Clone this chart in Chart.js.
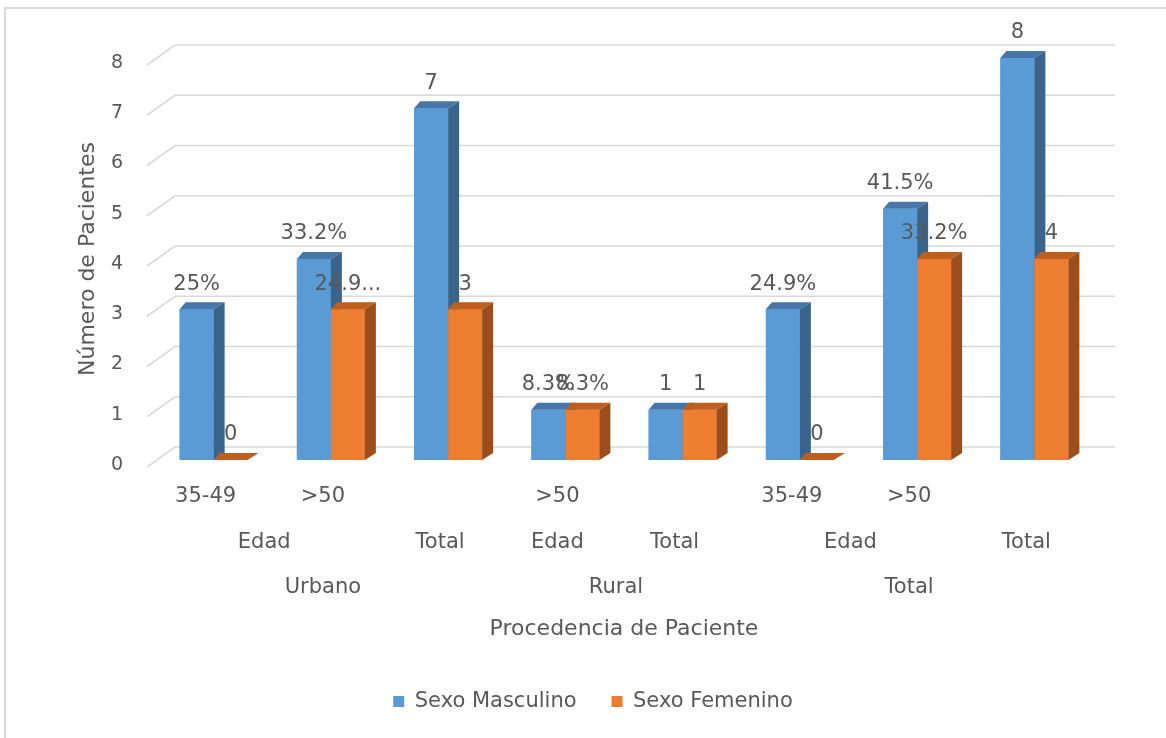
<!DOCTYPE html>
<html>
<head>
<meta charset="utf-8">
<script src="https://cdn.jsdelivr.net/npm/chart.js@4/dist/chart.umd.min.js"></script>
<style>
  html, body { margin: 0; padding: 0; background: #ffffff; overflow: hidden; }
  #wrap { position: absolute; left: 0; top: 0; width: 1166px; height: 738px; overflow: hidden; }
  #frame { position: absolute; left: 4px; top: 7px; width: 2000px; height: 2000px;
           border: 2px solid #d9d9d9; box-sizing: border-box; pointer-events: none; }
  canvas { position: absolute; left: 0; top: 0; }
</style>
</head>
<body>
<div id="wrap">
  <div id="frame"></div>
  <canvas id="c" width="1166" height="738"></canvas>
</div>
<script>
// ---- Data ----
const level1Labels = ['35-49', '>50', '', '>50', '', '35-49', '>50', ''];
const level2Labels = ['Edad', 'Total', 'Edad', 'Total', 'Edad', 'Total'];
const level2Spans  = [2, 1, 1, 1, 2, 1];
const level3Labels = ['Urbano', 'Rural', 'Total'];
const level3Spans  = [3, 2, 3];

const seriesNames = ['Sexo Masculino', 'Sexo Femenino'];
const masculino = [3, 4, 7, 1, 1, 3, 5, 8];
const femenino  = [0, 3, 3, 1, 1, 0, 4, 4];
const masculinoLabels = ['25%', '33.2%', '7', '8.3%', '1', '24.9%', '41.5%', '8'];
const femeninoLabels  = ['0', '24.9...', '3', '8.3%', '1', '0', '33.2%', '4'];
const yTicks = [0, 1, 2, 3, 4, 5, 6, 7, 8];

// full category names (for tooltips), built from the levels
function buildCategoryNames() {
  const l2 = [], l3 = [];
  level2Spans.forEach((s, i) => { for (let k = 0; k < s; k++) l2.push(level2Labels[i]); });
  level3Spans.forEach((s, i) => { for (let k = 0; k < s; k++) l3.push(level3Labels[i]); });
  return level1Labels.map((l, i) => [l3[i], l2[i], l].filter(Boolean).join(' / '));
}
const categories = buildCategoryNames();

const FONT = 'DejaVu Sans';
const TEXT = '#595959';
const GRID = '#d9d9d9';
const frontColors = ['#5B9BD5', '#ED7D31'];
const topColors   = ['#4677a8', '#bf5f1f'];
const sideColors  = ['#3a6489', '#9b4d1c'];
const valueLabels = [masculinoLabels, femeninoLabels];

// ---- 3D-ish rendering plugin ----
const DX_L = 6, DX_R = 11, DY = 7;

const wallGrid = {
  id: 'wallGrid',
  beforeDatasetsDraw(chart) {
    const {ctx, chartArea, scales} = chart;
    const y = scales.y;
    ctx.save();
    ctx.strokeStyle = GRID;
    ctx.lineWidth = 1.6;
    yTicks.forEach(v => {
      const py = y.getPixelForValue(v);
      ctx.beginPath();
      ctx.moveTo(chartArea.left - 8, py + 7);
      ctx.lineTo(chartArea.left + 20, py - 13);
      ctx.lineTo(chartArea.right + 22, py - 13);
      ctx.stroke();
    });
    ctx.restore();
  },
  afterDatasetsDraw(chart) {
    const {ctx} = chart;
    const metas = chart.data.datasets.map((d, i) => chart.getDatasetMeta(i));
    const n = chart.data.labels.length;
    ctx.save();
    for (let c = 0; c < n; c++) {
      metas.forEach((meta, di) => {
        const bar = meta.data[c];
        if (!bar) return;
        const {x, y, base, width} = bar.getProps(['x', 'y', 'base', 'width'], true);
        const l = x - width / 2, r = x + width / 2;
        // front
        ctx.fillStyle = frontColors[di];
        ctx.fillRect(l, y, width, base - y);
        // top
        ctx.fillStyle = topColors[di];
        ctx.beginPath();
        ctx.moveTo(l, y);
        ctx.lineTo(l + DX_L, y - DY);
        ctx.lineTo(r + DX_R, y - DY);
        ctx.lineTo(r, y);
        ctx.closePath();
        ctx.fill();
        // side
        ctx.fillStyle = sideColors[di];
        ctx.beginPath();
        ctx.moveTo(r, y);
        ctx.lineTo(r + DX_R, y - DY);
        ctx.lineTo(r + DX_R, base - DY);
        ctx.lineTo(r, base);
        ctx.closePath();
        ctx.fill();
      });
    }
    // value labels
    ctx.font = '21px "' + FONT + '"';
    ctx.fillStyle = TEXT;
    ctx.textAlign = 'center';
    ctx.textBaseline = 'middle';
    metas.forEach((meta, di) => {
      meta.data.forEach((bar, c) => {
        const {x, y} = bar.getProps(['x', 'y'], true);
        ctx.fillText(valueLabels[di][c], x, y - 25);
      });
    });
    ctx.restore();
  },
  afterDraw(chart) {
    const {ctx, chartArea, scales} = chart;
    const xs = scales.x;
    const px = i => xs.getPixelForValue(i) - 8;
    ctx.save();
    ctx.font = '21px "' + FONT + '"';
    ctx.fillStyle = TEXT;
    ctx.textAlign = 'center';
    ctx.textBaseline = 'middle';
    level1Labels.forEach((t, i) => { if (t) ctx.fillText(t, px(i), chartArea.bottom + 37); });
    let s = 0;
    level2Spans.forEach((span, i) => {
      ctx.fillText(level2Labels[i], (px(s) + px(s + span - 1)) / 2, chartArea.bottom + 83);
      s += span;
    });
    s = 0;
    level3Spans.forEach((span, i) => {
      ctx.fillText(level3Labels[i], (px(s) + px(s + span - 1)) / 2, chartArea.bottom + 128);
      s += span;
    });
    ctx.restore();
  }
};

new Chart(document.getElementById('c'), {
  type: 'bar',
  data: {
    labels: categories,
    datasets: [
      { label: seriesNames[0], data: masculino, backgroundColor: frontColors[0], borderWidth: 0 },
      { label: seriesNames[1], data: femenino, backgroundColor: frontColors[1], borderWidth: 0 }
    ]
  },
  options: {
    responsive: false,
    animation: false,
    devicePixelRatio: 1,
    layout: { padding: { left: 20, right: 0, top: 58, bottom: 16 } },
    datasets: { bar: { categoryPercentage: 0.58, barPercentage: 1.0 } },
    plugins: {
      legend: {
        position: 'bottom',
        labels: {
          boxWidth: 11, boxHeight: 11, padding: 35, color: TEXT,
          font: { family: FONT, size: 21 }
        }
      },
      tooltip: { enabled: true }
    },
    scales: {
      x: {
        grid: { display: false, drawTicks: false },
        border: { display: false },
        ticks: { display: false },
        title: {
          display: true, text: 'Procedencia de Paciente', color: TEXT,
          font: { family: FONT, size: 22 }, padding: { top: 0, bottom: 14 }
        },
        afterFit(scale) { scale.height = 196; }
      },
      y: {
        min: 0, max: 8,
        grid: { display: false, drawTicks: false },
        border: { display: false },
        ticks: {
          stepSize: 1, color: TEXT, padding: 32, labelOffset: 5,
          font: { family: FONT, size: 19 }
        },
        title: {
          display: true, text: 'Número de Pacientes', color: TEXT,
          font: { family: FONT, size: 22 }, padding: { top: 55, bottom: 0 }
        },
        afterFit(scale) { scale.width = 135; }
      },
      yRight: {
        position: 'right',
        display: true,
        grid: { display: false, drawTicks: false },
        border: { display: false },
        ticks: { display: false },
        afterFit(scale) { scale.width = 73; }
      }
    }
  },
  plugins: [wallGrid]
});
</script>
</body>
</html>
